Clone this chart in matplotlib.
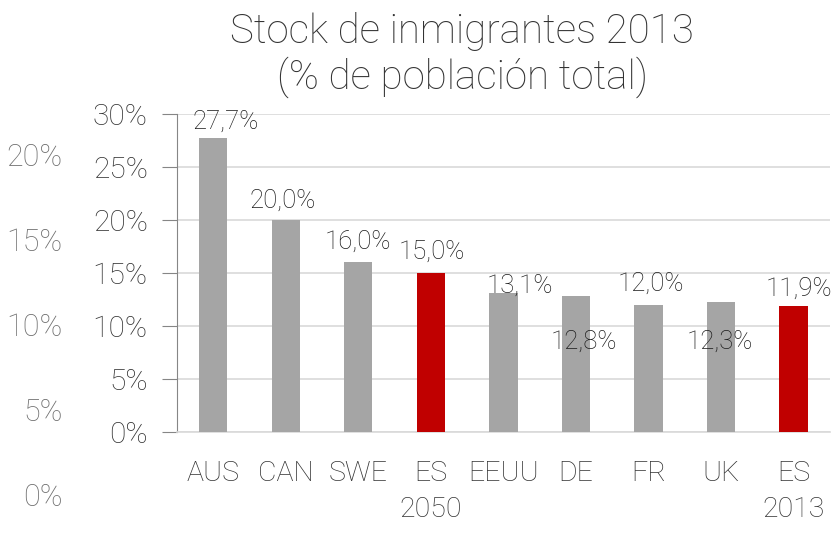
import numpy as np
import matplotlib.pyplot as plt

plt.rcParams['font.family'] = ['Roboto', 'DejaVu Sans']

# datos
categorias = ['AUS', 'CAN', 'SWE', 'ES\n2050', 'EEUU', 'DE', 'FR', 'UK', 'ES\n2013']
valores = [27.7, 20.0, 16.0, 15.0, 13.1, 12.8, 12.0, 12.3, 11.9]
es_espana = [False, False, False, True, False, False, False, False, True]
# desplazamiento de las etiquetas (puntos)
desplaz_x = [9, -2, 0, 1, 12, 6, 2, -1, 4]
desplaz_y = [12, 14, 15, 15, 5, -33, 15, -29, 12]

eje_fantasma = [0, 5, 10, 15, 20]

fig = plt.figure(figsize=(8.36, 5.33), dpi=100)
ax = fig.add_axes([0.2117, 0.1895, 0.781, 0.5966])

x = np.arange(len(categorias))
colores = ['#c00000' if e else '#a5a5a5' for e in es_espana]
ax.bar(x, valores, width=0.39, color=colores, zorder=3)

for xi, v, dx, dy in zip(x, valores, desplaz_x, desplaz_y):
    ax.annotate(f'{v:.1f}%'.replace('.', ','), (xi, v), xytext=(dx, dy),
                textcoords='offset points', ha='center', va='center',
                fontsize=18.5, color='#1a1a1a', fontweight='light', zorder=4)

ax.set_xlim(-0.5, len(categorias) - 0.5)
ax.set_ylim(0, 30)
ax.set_yticks(np.arange(0, 31, 5))
ax.set_yticklabels([f'{t}%' for t in range(0, 31, 5)])
ax.set_xticks(x)
ax.set_xticklabels(categorias, linespacing=1.45)
ax.grid(axis='y', color='#d9d9d9', linewidth=1.2, zorder=0)
for s in ['top', 'right']:
    ax.spines[s].set_visible(False)
ax.spines['left'].set_color('#868686')
ax.spines['bottom'].set_color('#d9d9d9')
ax.spines['bottom'].set_linewidth(1.2)
ax.tick_params(axis='y', length=11, color='#868686', labelsize=21.5, labelcolor='#333333', pad=10)
ax.tick_params(axis='x', length=0, labelsize=20.5, labelcolor='#333333', pad=20)
for lbl in ax.get_xticklabels() + ax.get_yticklabels():
    lbl.set_fontweight('light')

# eje fantasma a la izquierda
ax2 = fig.add_axes([0.078, 0.0713, 0.001, 0.638])
ax2.set_ylim(0, 20)
ax2.set_yticks(eje_fantasma)
ax2.set_yticklabels([f'{t}%' for t in eje_fantasma])
ax2.set_xticks([])
for s in ax2.spines.values():
    s.set_visible(False)
ax2.tick_params(axis='y', length=0, labelsize=22, labelcolor='#6e6e6e', pad=2)
for lbl in ax2.get_yticklabels():
    lbl.set_fontweight('light')

fig.text(0.553, 0.977, 'Stock de inmigrantes 2013\n(% de población total)',
         ha='center', va='top', fontsize=29, color='#333333',
         fontweight='light', linespacing=1.16)

fig.savefig('out.png', dpi=100)
